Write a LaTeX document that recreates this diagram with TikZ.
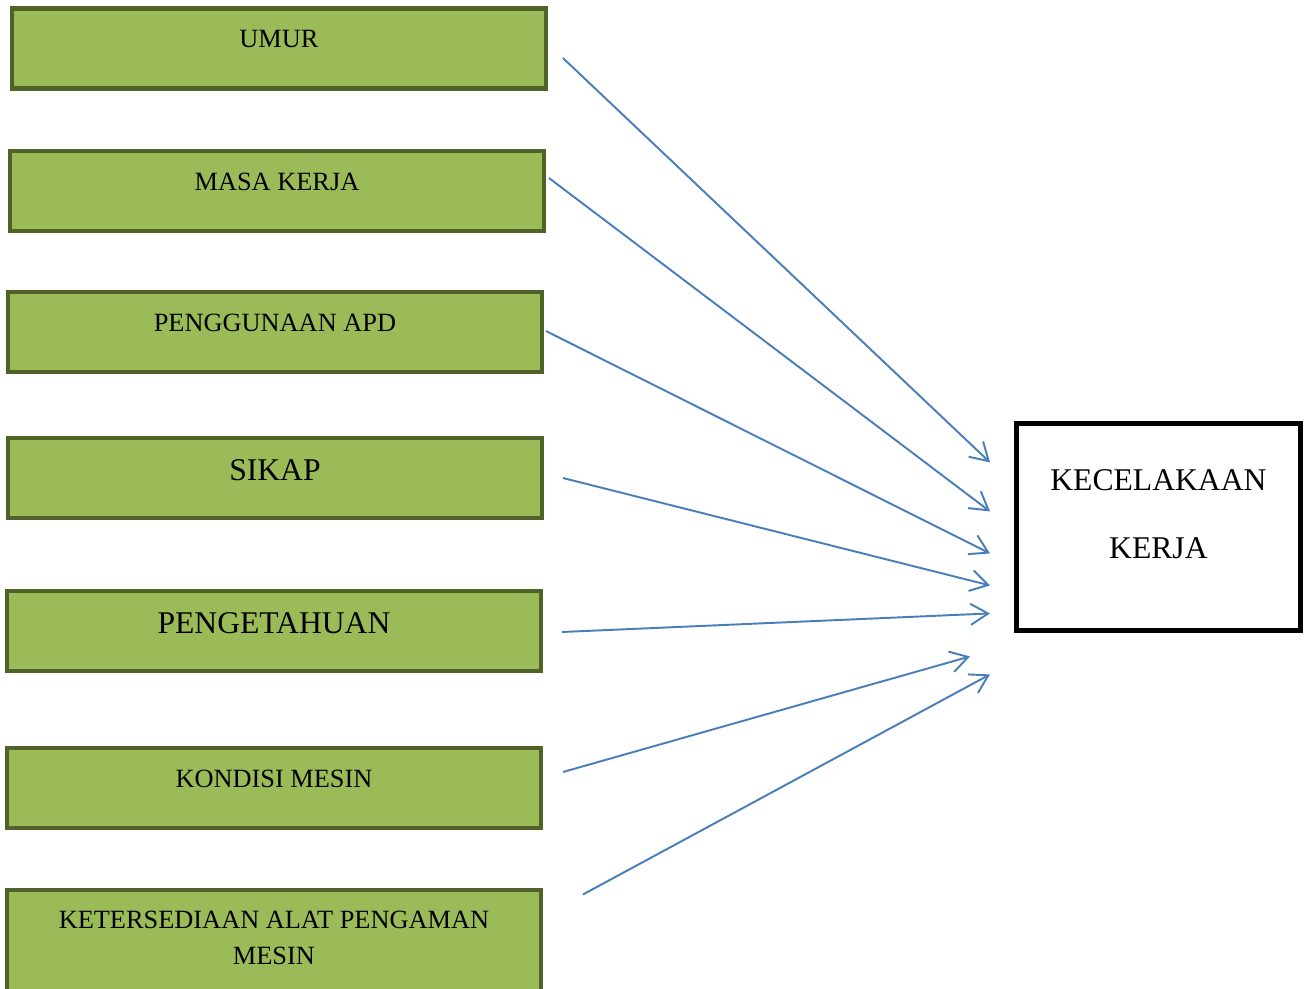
\documentclass[tikz,border=0pt]{standalone}
\usepackage{fontspec}
\setmainfont{Liberation Serif}
\usepackage{xcolor}
\usepackage{tikz}
\usetikzlibrary{arrows.meta}
\definecolor{hijau}{HTML}{9BBB59}
\definecolor{hijautua}{HTML}{4F6228}
\definecolor{biru}{HTML}{4A7EBB}

\begin{document}
\begin{tikzpicture}[x=0.02cm,y=-0.02cm,
  faktor/.style={draw=hijautua, fill=hijau, line width=2.3pt, anchor=north west,
    inner sep=0pt, minimum width=10.68cm, align=center,
    font=\fontsize{15}{20}\selectfont, text height=0.78cm, text depth=0.82cm},
  faktorbesar/.style={faktor, font=\fontsize{18}{22}\selectfont,
    text height=0.84cm, text depth=0.76cm},
  panah/.style={draw=biru, line width=1.1pt, -{Straight Barb[length=10pt,width=12pt]}}]
\useasboundingbox (2,2) rectangle (1308,991);
% Variabel bebas
\node[faktor] (umur) at (12,8.5) {UMUR};
\node[faktor] (masa) at (10,151) {MASA KERJA};
\node[faktor] (apd) at (8,292) {PENGGUNAAN APD};
\node[faktorbesar] (sikap) at (8,438) {SIKAP};
\node[faktorbesar] (tahu) at (7,591) {PENGETAHUAN};
\node[faktor] (mesin) at (7,748) {KONDISI MESIN};
\node[faktor, text height=1.48cm, text depth=1.1cm] (alat) at (7,890)
  {KETERSEDIAAN ALAT PENGAMAN\\MESIN};
% Variabel terikat
\node[draw, line width=2.8pt, inner sep=0pt, anchor=north west, minimum width=5.68cm,
  align=center, font=\fontsize{18}{39}\selectfont, text height=2.7cm, text depth=1.44cm]
  (hasil) at (1016,423.5) {KECELAKAAN\\KERJA};
% Panah
\foreach \asal/\dx/\dy/\ex/\ey in {umur/15/9.5/-24/-65, masa/3/-13/-24/-16,
    apd/2/-1/-24/26, sikap/19/0/-24/58, tahu/19/1/-24/86,
    mesin/20/-16/-44/129, alat/40/-60/-24/147}{
  \draw[panah] ([shift={(\dx,\dy)}]\asal.east) -- ([shift={(\ex,\ey)}]hasil.west);
}
\end{tikzpicture}
\end{document}
